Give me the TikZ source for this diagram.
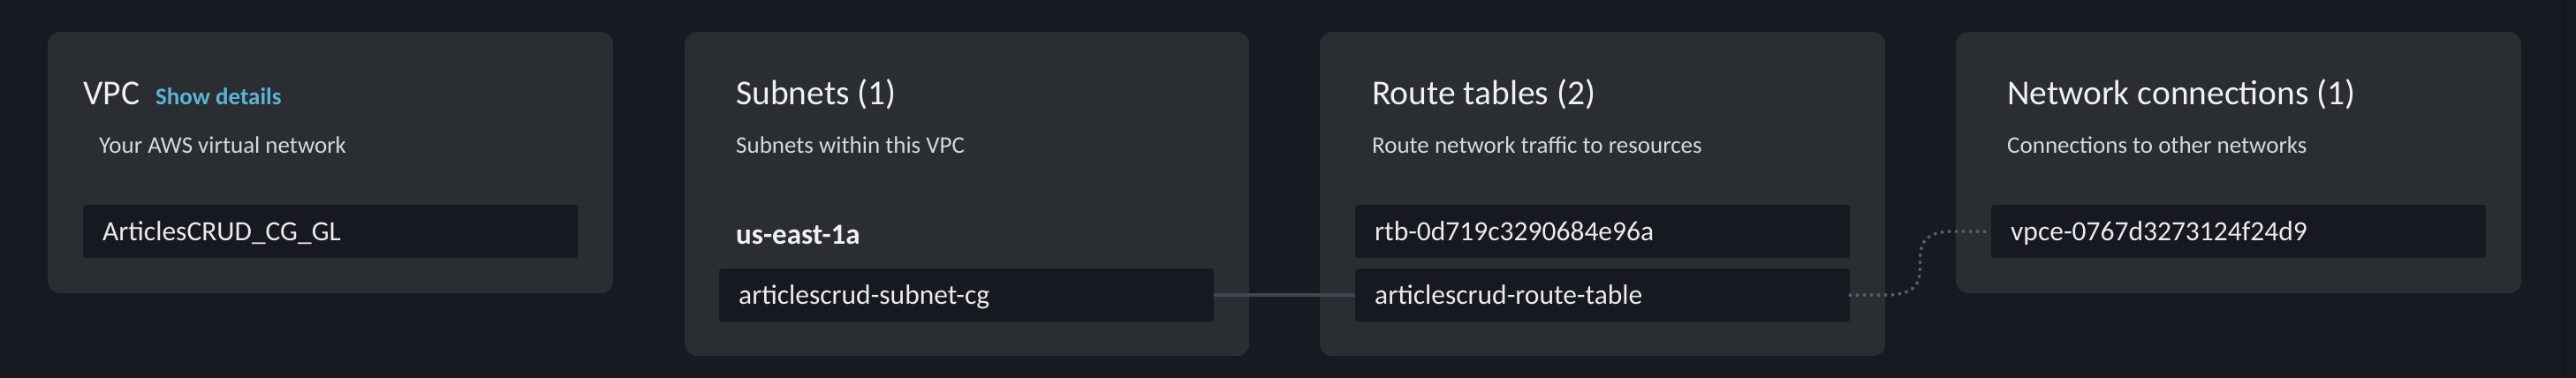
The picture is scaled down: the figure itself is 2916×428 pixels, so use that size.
\documentclass[tikz,border=0pt]{standalone}
\usepackage{fontspec}
\setmainfont{Carlito}
\definecolor{bgc}{RGB}{23,26,32}
\definecolor{cardc}{RGB}{42,45,50}
\definecolor{innerc}{RGB}{22,25,31}
\definecolor{titlec}{RGB}{240,241,242}
\definecolor{subc}{RGB}{213,217,220}
\definecolor{boxtc}{RGB}{233,235,237}
\definecolor{bluec}{RGB}{91,180,214}
\definecolor{linec}{RGB}{67,70,79}
\definecolor{dotc}{RGB}{88,92,100}
\definecolor{edgec}{RGB}{17,19,23}
\tikzset{
  card/.style={fill=cardc, rounded corners=14pt, anchor=north west, inner sep=0pt, minimum width=#1},
  card/.default=640pt,
  itembox/.style={fill=innerc, rounded corners=3pt, anchor=north west, inner xsep=22pt, inner ysep=0pt,
    text width=516pt, align=left, minimum height=60pt, text height=26pt, text depth=6pt,
    text=boxtc, font=\fontsize{31.5}{36}\selectfont},
  cardtitle/.style={anchor=base west, inner sep=0pt, text=titlec, font=\fontsize{39.5}{44}\selectfont},
  cardsub/.style={anchor=base west, inner sep=0pt, text=subc, font=\fontsize{27}{32}\selectfont},
  linktext/.style={anchor=base west, inner sep=0pt, text=bluec, font=\bfseries\fontsize{27}{32}\selectfont},
  zonetext/.style={anchor=base west, inner sep=0pt, text=titlec, font=\bfseries\fontsize{33}{38}\selectfont},
  solidconn/.style={draw=linec, line width=3.5pt},
  dotconn/.style={draw=dotc, line width=4pt, line cap=round, dash pattern=on 0pt off 8pt}
}
\begin{document}
\begin{tikzpicture}[x=1pt,y=-1pt]
\useasboundingbox (0,0) rectangle (2916,428);
\fill[bgc] (0,0) rectangle (2916,428);
\fill[edgec] (2902,0) rectangle (2904,428);
% cards
\node[card, minimum height=296pt] (vpccard) at (54,36) {};
\node[card=639pt, minimum height=367pt] (subcard) at (775,36) {};
\node[card, minimum height=367pt] (rtcard) at (1494,36) {};
\node[card, minimum height=296pt] (netcard) at (2214,36) {};
% VPC card
\node[cardtitle] (vpct) at (94,118) {VPC};
\node[linktext] (vpcl) at (176,118) {Show details};
\node[cardsub] (vpcs) at (112,173) {Your AWS virtual network};
\node[itembox] (vpcbox) at (94,232) {ArticlesCRUD\_CG\_GL};
% Subnets card
\node[cardtitle] (subt) at (833,118) {Subnets (1)};
\node[cardsub] (subs) at (833,173) {Subnets within this VPC};
\node[zonetext] (zone) at (833,276) {us-east-1a};
\node[itembox] (subbox) at (814,304) {articlescrud-subnet-cg};
% Route tables card
\node[cardtitle] (rtt) at (1553,118) {Route tables (2)};
\node[cardsub] (rts) at (1553,173) {Route network traffic to resources};
\node[itembox] (rtb1) at (1534,232) {rtb-0d719c3290684e96a};
\node[itembox] (rtb2) at (1534,304) {articlescrud-route-table};
% Network connections card
\node[cardtitle] (nett) at (2272,118) {Network connections (1)};
\node[cardsub] (nets) at (2272,173) {Connections to other networks};
\node[itembox] (vpce) at (2254,232) {vpce-0767d3273124f24d9};
% connectors
\draw[solidconn] (subbox.east) -- (rtb2.west);
\coordinate (bendA) at (2135,334);
\coordinate (bendB) at (2212,262);
\draw[dotconn] (rtb2.east) -- (bendA) .. controls (bendB |- bendA) and (bendA |- bendB) .. (bendB) -- (vpce.west);
\end{tikzpicture}
\end{document}
